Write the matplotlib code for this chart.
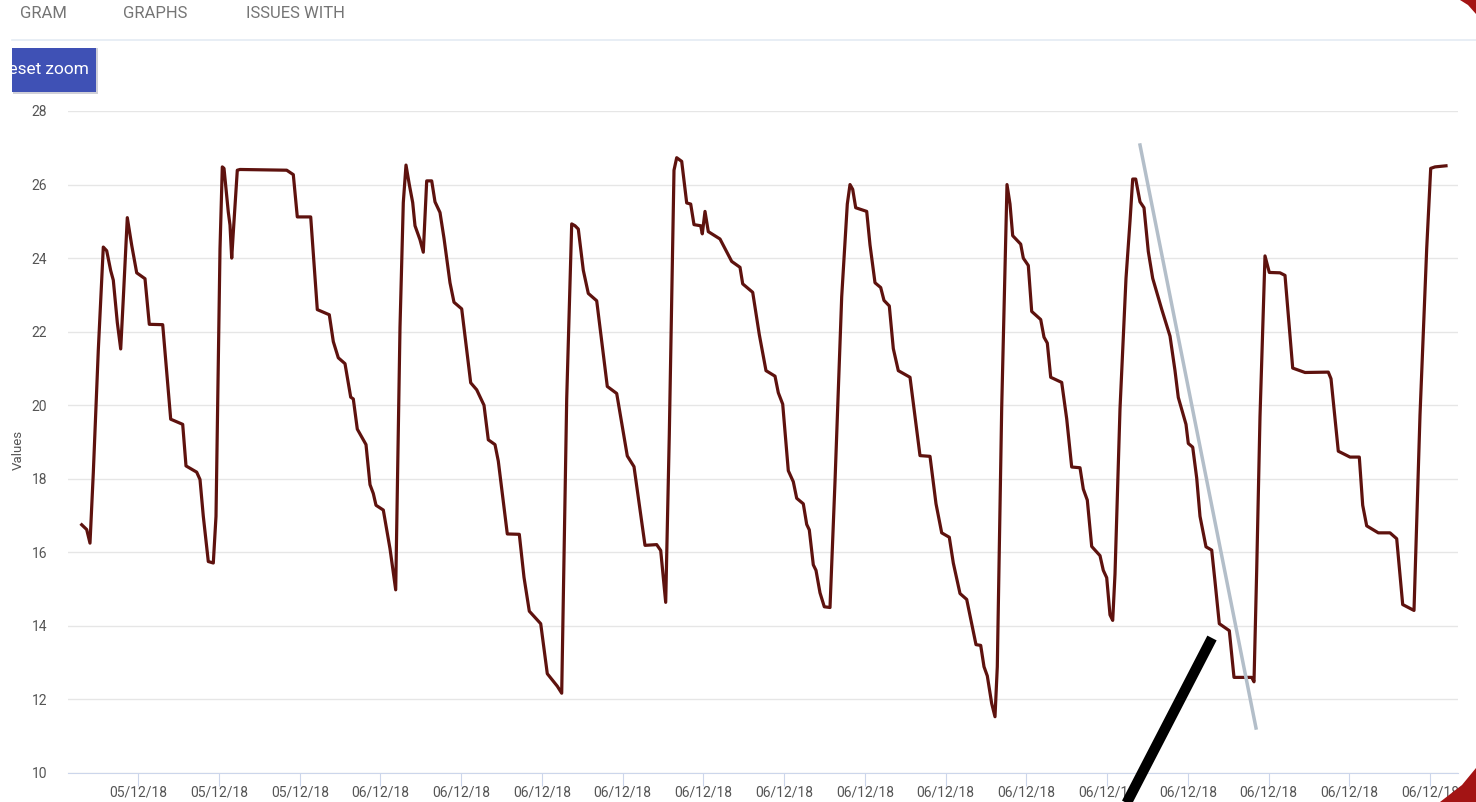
import matplotlib.pyplot as plt
from matplotlib.patches import Rectangle, Polygon
from matplotlib.lines import Line2D

plt.rcParams['font.family'] = ['Roboto', 'DejaVu Sans']

# sample time (screen units) and reading
t = [81.7, 86.7, 90, 93.3, 98.3, 103.3, 106.7, 110.7, 113.3, 117.3, 120.7, 123.3, 127.3, 131.7,
     136.7, 145, 149.3, 162.7, 170.7, 182.7, 186, 196.7, 200, 203.3, 208.3, 213.3, 216, 220,
     222.3, 224, 228.3, 230, 231.7, 233.3, 237.3, 240, 286.7, 293.3, 297.3, 310.7, 317.3, 329.3,
     333.3, 338.3, 345, 350.7, 353.3, 357.3, 366, 370, 373.3, 376, 383.3, 390, 395.7, 400,
     403.3, 406, 409.3, 412.7, 415, 420, 423.3, 426.7, 431.7, 435, 440, 444, 450, 454, 461.7,
     470.7, 476.7, 484, 488.3, 495, 498.3, 507.3, 519.3, 524, 529.3, 540.7, 547.3, 557.3,
     561.7, 566.7, 571.7, 575, 578.3, 583.3, 588.3, 596.7, 607.3, 616.7, 627.3, 634, 645,
     656.7, 660.7, 665.7, 669.3, 674, 676.7, 681.7, 686.7, 690.7, 694, 700.7, 702.3, 705,
     708.3, 720, 731.7, 740, 742.7, 752.7, 759.3, 766, 775, 778.3, 782.7, 788.3, 793.3, 796.7,
     803.3, 806.7, 809.3, 813.3, 816, 820, 824.3, 830, 835, 841.7, 847.3, 850, 852.7, 855.7,
     866.7, 870, 875, 880.7, 884, 889.3, 893.3, 898.3, 910, 920, 930, 936, 941.7, 949.3,
     953.3, 960, 966.7, 976, 980.7, 984, 987.3, 991.7, 995, 997.3, 1001.7, 1007, 1010, 1012.7,
     1020.7, 1023.3, 1028.3, 1031.7, 1040.7, 1044, 1047.3, 1050.7, 1061.7, 1066.7, 1071.7,
     1080, 1083.3, 1087.3, 1091.7, 1100, 1103.3, 1106.7, 1110, 1112.7, 1115, 1120, 1126, 1130,
     1132.7, 1135.7, 1140, 1144, 1148.3, 1152.7, 1161.7, 1170, 1175, 1178.3, 1186, 1188.3,
     1192.7, 1196.7, 1200, 1206, 1211.7, 1215, 1219.3, 1229.3, 1234, 1251.7, 1254, 1256.7,
     1260, 1265, 1269.3, 1280, 1285, 1292.7, 1305, 1328.3, 1331, 1338.3, 1350, 1359.3, 1362.7,
     1366.7, 1378.3, 1390, 1396.7, 1402.7, 1414, 1420, 1426.7, 1430.7, 1435, 1446]
values = [16.75, 16.62, 16.25, 18.16, 21.5, 24.3, 24.2, 23.66, 23.4, 22.25, 21.53, 22.9, 25.1, 24.35,
          23.6, 23.44, 22.2, 22.19, 19.62, 19.48, 18.35, 18.18, 17.98, 16.98, 15.75, 15.71, 16.98, 24.25,
          26.48, 26.44, 25.25, 24.9, 24.0, 24.7, 26.39, 26.41, 26.39, 26.27, 25.12, 25.12, 22.6, 22.46,
          21.73, 21.29, 21.13, 20.22, 20.17, 19.35, 18.93, 17.84, 17.6, 17.28, 17.15, 16.1, 14.98, 22.12,
          25.51, 26.53, 26.0, 25.51, 24.88, 24.5, 24.16, 26.1, 26.1, 25.53, 25.24, 24.54, 23.33, 22.8, 22.62,
          20.61, 20.42, 20.0, 19.06, 18.93, 18.48, 16.5, 16.49, 15.32, 14.4, 14.06, 12.7, 12.36,
          12.17, 20.17, 24.93, 24.88, 24.79, 23.67, 23.04, 22.84, 20.51, 20.32, 18.62, 18.33, 16.19,
          16.21, 16.05, 14.64, 19.2, 26.39, 26.73, 26.63, 25.5, 25.47, 24.91, 24.88, 24.66, 25.27,
          24.72, 24.52, 23.91, 23.75, 23.3, 23.07, 21.92, 20.94, 20.79, 20.34, 20.03, 18.22, 17.92, 17.47,
          17.32, 16.76, 16.61, 15.66, 15.51, 14.9, 14.52, 14.5, 17.92, 22.95, 25.47, 26.0, 25.87, 25.37,
          25.27, 24.36, 23.33, 23.2, 22.85, 22.7, 21.54, 20.94, 20.76, 18.63, 18.61, 17.32, 16.53, 16.41,
          15.71, 14.88, 14.72, 13.49, 13.47, 12.89, 12.64, 11.89, 11.53, 12.89, 19.93, 26.0, 25.47, 24.61,
          24.38, 24.0, 23.8, 22.55, 22.33, 21.85, 21.69, 20.76, 20.62, 19.63, 18.32,
          18.3, 17.72, 17.42, 16.16, 15.91, 15.51, 15.31, 14.3, 14.15, 15.41, 19.9, 23.45, 25.0,
          26.15, 26.15, 25.53, 25.37, 24.18, 23.45, 22.61, 21.88, 20.94, 20.21, 19.48, 18.96,
          18.86, 18.02, 16.98, 16.15, 16.06, 15.21, 14.06, 13.87, 12.6, 12.6, 12.48, 15.52,
          19.69, 24.06, 23.61, 23.6, 23.53, 21.01, 20.89, 20.9, 20.72, 18.75, 18.59, 18.59, 17.28,
          16.72, 16.53, 16.53, 16.37, 14.58, 14.42, 19.73, 24.26, 26.44, 26.48, 26.51]

tick_labels = ['05/12/18'] * 3 + ['06/12/18'] * 14
tick_t = [138.3 + 80.73 * k for k in range(17)]

W, H = 1476, 802
fig = plt.figure(figsize=(W / 100, H / 100), dpi=100)


def fx(px):
    return px / W


def fy(py):
    return 1 - py / H


ax = fig.add_axes([fx(68), fy(773), fx(1458) - fx(68), fy(111) - fy(773)])
ax.plot(t, values, color='#5e120e', lw=2.3, solid_joinstyle='round')
ax.set_xlim(68, 1458)
ax.set_ylim(10, 28)
ax.set_yticks(range(10, 29, 2))
ax.set_xticks(tick_t)
ax.set_xticklabels(tick_labels)
ax.set_axisbelow(True)
ax.grid(axis='y', color='#e6e6e6', lw=1)
for s in ['top', 'right', 'left']:
    ax.spines[s].set_visible(False)
ax.spines['bottom'].set_color('#ccd6eb')
ax.tick_params(axis='y', length=0, pad=15, labelsize=10, labelcolor='#555555')
ax.tick_params(axis='x', length=9, color='#ccd6eb', pad=0, labelsize=10, labelcolor='#555555')
fig.text(fx(18), fy(450), 'Values', rotation=90, ha='center', va='center',
         fontsize=9.5, color='#555555')

# tabs header
fig.text(fx(20), fy(13), 'GRAM', ha='left', va='center', fontsize=12, color='#757575')
fig.text(fx(123), fy(13), 'GRAPHS', ha='left', va='center', fontsize=12, color='#757575')
fig.text(fx(246), fy(13), 'ISSUES WITH', ha='left', va='center', fontsize=12, color='#757575')
fig.add_artist(Line2D([fx(12), 1], [fy(40), fy(40)], color='#e4ebf3', lw=1.2))

# reset zoom button
fig.add_artist(Rectangle((fx(13), fy(94)), fx(85), fy(48) - fy(94), color='#d0d0d8', lw=0))
btn = Rectangle((fx(12), fy(92)), fx(84), fy(48) - fy(92), color='#3f51b5', lw=0)
fig.add_artist(btn)
txt = fig.text(fx(88.5), fy(70), 'Reset zoom', ha='right', va='center', fontsize=12.4, color='white')
txt.set_clip_path(btn)

# hand-drawn marks
fig.add_artist(Line2D([fx(1140), fx(1256)], [fy(145), fy(728)], color='#b3bec9', lw=2.5))
fig.add_artist(Line2D([fx(1212), fx(1122)], [fy(638), fy(812)], color='black', lw=7.5,
                      solid_capstyle='butt'))
fig.add_artist(Polygon([(fx(1476), fy(768)), (fx(1476), fy(802)), (fx(1440), fy(802)),
                        (fx(1462), fy(785))], closed=True, color='#a31414', lw=0))
fig.add_artist(Polygon([(fx(1460), fy(0)), (fx(1476), fy(0)), (fx(1476), fy(14)),
                        (fx(1468), fy(5))], closed=True, color='#a31414', lw=0))

fig.savefig('out.png', dpi=100)
